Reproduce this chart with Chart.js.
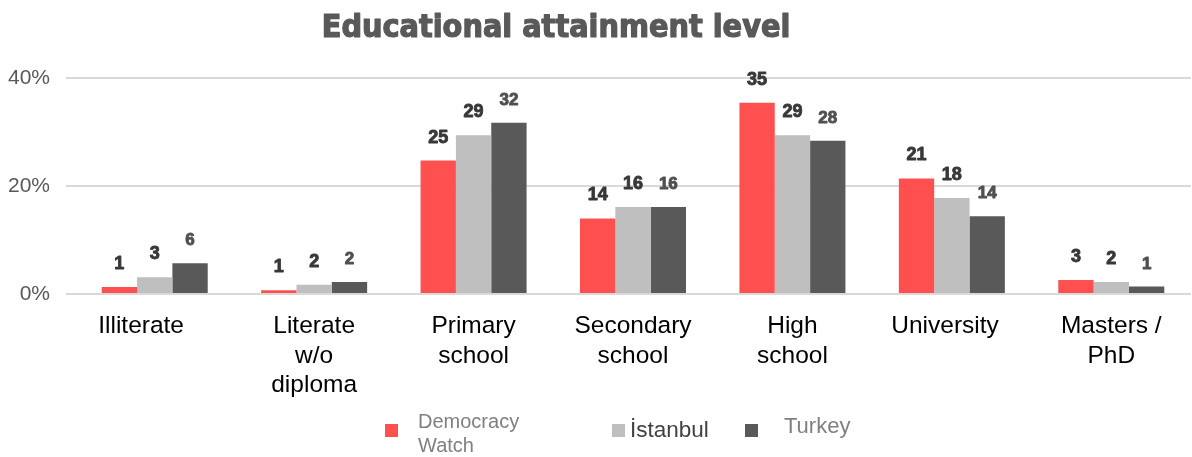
<!DOCTYPE html>
<html>
<head>
<meta charset="utf-8">
<title>Educational attainment level</title>
<script src="https://cdn.jsdelivr.net/npm/chart.js@4/dist/chart.umd.min.js"></script>
<style>
  html, body { margin: 0; padding: 0; background: #fff; }
  #wrap { position: relative; width: 1192px; height: 457px; overflow: hidden; }
  #eduChart { position: absolute; left: 0; top: 0; }
  .legend-box { position: absolute; width: 13px; height: 13px; }
  .legend-text { position: absolute; font-family: 'Liberation Sans', Arial, sans-serif; white-space: nowrap; }
</style>
</head>
<body>
<div id="wrap">
  <canvas id="eduChart" width="1192" height="457"></canvas>

  <div class="legend-box" style="left:385px; top:424px; background:#ff5050;"></div>
  <div class="legend-text" style="left:418px; top:409px; font-size:20px; line-height:24px; color:#808080;">Democracy<br>Watch</div>

  <div class="legend-box" style="left:612px; top:424px; background:#bfbfbf;"></div>
  <div class="legend-text" style="left:630px; top:417px; font-size:22.5px; line-height:26px; color:#404040;">İstanbul</div>

  <div class="legend-box" style="left:745px; top:424px; background:#595959;"></div>
  <div class="legend-text" style="left:784px; top:414px; font-size:22px; line-height:24px; color:#808080;">Turkey</div>
</div>

<script>
// categories and shares (%) per group
// (trailing spaces nudge the one-line labels a bit to the left)
const categories = [
  'Illiterate    ',
  ['Literate', 'w/o', 'diploma'],
  ['Primary', 'school'],
  ['Secondary', 'school'],
  ['High', 'school'],
  'University  ',
  ['Masters /', 'PhD']
];
const democracyWatch = [1.3, 0.7, 24.7, 14.0, 35.4, 21.4, 2.6];
const istanbul = [3.1, 1.7, 29.4, 16.1, 29.4, 17.8, 2.2];
const turkey = [5.7, 2.2, 31.7, 16.1, 28.4, 14.4, 1.4];
const yTicks = [0, 20, 40];

const chartTitle = 'Educational attainment level';

// value labels over each bar (no datalabels plugin offline)
const barLabels = {
  id: 'barLabels',
  afterDatasetsDraw(chart) {
    const ctx = chart.ctx;
    ctx.save();
    ctx.textAlign = 'center';
    ctx.textBaseline = 'bottom';
    ctx.lineJoin = 'round';
    chart.data.datasets.forEach((ds, i) => {
      const meta = chart.getDatasetMeta(i);
      const col = i === 2 ? '#505050' : '#383838';
      ctx.fillStyle = col;
      ctx.strokeStyle = col;
      ctx.lineWidth = 0.9;
      ctx.font = (i === 2 ? 'bold 17px' : 'bold 18px') + " 'Liberation Sans', Arial, sans-serif";
      meta.data.forEach((bar, j) => {
        const txt = String(Math.round(ds.data[j]));
        ctx.fillText(txt, bar.x, bar.y - 14);
        ctx.strokeText(txt, bar.x, bar.y - 14);
      });
    });
    ctx.restore();
  }
};

// heading drawn a little left of the canvas centre
const heading = {
  id: 'heading',
  afterDraw(chart) {
    const ctx = chart.ctx;
    ctx.save();
    ctx.fillStyle = '#595959';
    ctx.strokeStyle = '#595959';
    ctx.lineWidth = 1.2;
    ctx.lineJoin = 'round';
    ctx.textAlign = 'center';
    ctx.textBaseline = 'alphabetic';
    ctx.font = "bold 32px 'DejaVu Sans Condensed', 'DejaVu Sans', sans-serif";
    ctx.fillText(chartTitle, 556, 37);
    ctx.strokeText(chartTitle, 556, 37);
    ctx.restore();
  }
};

new Chart(document.getElementById('eduChart'), {
  type: 'bar',
  data: {
    labels: categories,
    datasets: [
      { label: 'Democracy Watch', data: democracyWatch, backgroundColor: '#ff5050' },
      { label: 'İstanbul', data: istanbul, backgroundColor: '#bfbfbf' },
      { label: 'Turkey', data: turkey, backgroundColor: '#595959' }
    ]
  },
  options: {
    responsive: false,
    animation: false,
    layout: { padding: { top: 78, right: 1, bottom: 43, left: 0 } },
    datasets: {
      bar: { categoryPercentage: 0.665, barPercentage: 1.0 }
    },
    scales: {
      x: {
        grid: { display: false, drawTicks: false },
        border: { display: false },
        ticks: {
          color: '#000',
          padding: 17,
          maxRotation: 0,
          autoSkip: false,
          font: { family: "'Liberation Sans', Arial, sans-serif", size: 24.5, lineHeight: 1.22 }
        },
        afterFit(scale) { scale.height = 120; }
      },
      y: {
        min: 0,
        max: 40,
        afterBuildTicks(scale) { scale.ticks = yTicks.map(v => ({ value: v })); },
        grid: { color: '#d9d9d9', lineWidth: 2, tickLength: 9, tickColor: '#d9d9d9' },
        border: { display: false },
        ticks: {
          color: '#595959',
          padding: 16,
          font: { family: "'Liberation Sans', Arial, sans-serif", size: 21 },
          callback: v => v + '%'
        },
        afterFit(scale) { scale.width = 75; }
      }
    },
    plugins: {
      legend: { display: false },
      tooltip: { enabled: false }
    }
  },
  plugins: [barLabels, heading]
});
</script>
</body>
</html>
